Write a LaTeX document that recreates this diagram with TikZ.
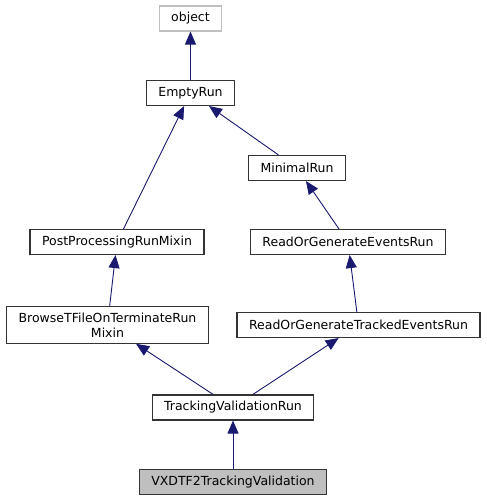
\documentclass[tikz,border=0pt]{standalone}
\usepackage{fontspec}
\setmainfont{DejaVu Sans}
\usetikzlibrary{arrows.meta}
\definecolor{edgeblue}{HTML}{191970}
\definecolor{extgray}{HTML}{BFBFBF}

\begin{document}
\begin{tikzpicture}[x=1pt, y=-1pt, semithick]
      \tikzstyle{every node}=[rectangle, draw=black!80, line width=1.1pt,
        font=\fontsize{12.5}{15}\selectfont, inner xsep=12pt, inner ysep=6pt,
        minimum height=25pt, align=center]
      \tikzstyle{ext}=[draw=extgray]
      \tikzstyle{self}=[fill=extgray]
      \tikzstyle{edge}=[draw=edgeblue, line width=0.9pt,
        -{Triangle[length=13pt, width=11pt]}]
      \useasboundingbox (0,0) rectangle (487,501);
      % classes, top to bottom
      \node[ext] (object) at (190.5,18.5) {object};
      \node (emptyrun) at (190.5,93) {EmptyRun};
      \node (minimalrun) at (297,168) {MinimalRun};
      \node (postproc) at (117,242) {PostProcessingRunMixin};
      \node (readevents) at (348,242) {ReadOrGenerateEventsRun};
      \node (browsemixin) at (107.5,325) {BrowseTFileOnTerminateRun\\Mixin};
      \node (readtracked) at (358.5,325) {ReadOrGenerateTrackedEventsRun};
      \node (trackingrun) at (233,407.5) {TrackingValidationRun};
      \node[self] (vxdtf2) at (233,482) {VXDTF2TrackingValidation};
      % inheritance
      \path (emptyrun)    edge[edge] (object)
            (minimalrun)  edge[edge] (emptyrun)
            (postproc)    edge[edge] (emptyrun)
            (readevents)  edge[edge] (minimalrun)
            (browsemixin) edge[edge] (postproc)
            (readtracked) edge[edge] (readevents)
            (trackingrun) edge[edge] (browsemixin)
                          edge[edge] (readtracked)
            (vxdtf2)      edge[edge] (trackingrun);
\end{tikzpicture}
\end{document}
